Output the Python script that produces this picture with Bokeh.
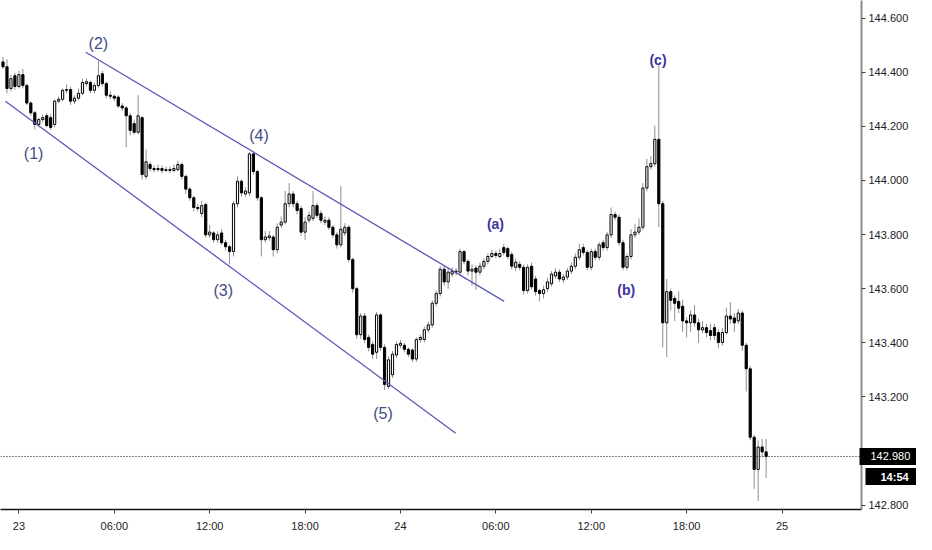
from bokeh.plotting import figure
from bokeh.models import ColumnDataSource, FixedTicker, PrintfTickFormatter, Span, LinearAxis
from bokeh.core.properties import value
from bokeh.embed import file_html
from bokeh.resources import INLINE

# USD/JPY, 15 minute bars. bar 0 = 23rd 00:00, first bar is 22nd 23:00
first_bar = -4

opens = [
    144.438, 144.420, 144.340, 144.387, 144.347, 144.391, 144.351, 144.286, 144.250, 144.207,
    144.225, 144.239, 144.232, 144.207, 144.293, 144.300, 144.333, 144.336, 144.293, 144.304,
    144.322, 144.358, 144.362, 144.333, 144.351, 144.394, 144.358, 144.315, 144.311, 144.308,
    144.275, 144.268, 144.239, 144.210, 144.178, 144.232, 144.015, 144.059, 144.044, 144.040,
    144.044, 144.037, 144.040, 144.037, 144.040, 144.059, 144.015, 143.968, 143.936, 143.900,
    143.878, 143.911, 143.799, 143.806, 143.781, 143.806, 143.770, 143.755, 143.737, 143.914,
    143.997, 143.950, 143.954, 144.098, 144.033, 143.936, 143.781, 143.788, 143.791, 143.744,
    143.835, 143.846, 143.914, 143.950, 143.914, 143.896, 143.809, 143.853, 143.860, 143.907,
    143.878, 143.846, 143.853, 143.827, 143.799, 143.762, 143.806, 143.827, 143.708, 143.600,
    143.430, 143.499, 143.420, 143.394, 143.365, 143.503, 143.383, 143.239, 143.282, 143.355,
    143.391, 143.391, 143.376, 143.373, 143.340, 143.412, 143.412, 143.448, 143.466, 143.546,
    143.582, 143.672, 143.625, 143.654, 143.661, 143.661, 143.737, 143.701, 143.665, 143.676,
    143.661, 143.683, 143.701, 143.719, 143.730, 143.719, 143.752, 143.748, 143.726, 143.679,
    143.690, 143.679, 143.593, 143.683, 143.636, 143.593, 143.582, 143.600, 143.618, 143.647,
    143.661, 143.633, 143.643, 143.665, 143.683, 143.716, 143.752, 143.734, 143.679, 143.737,
    143.716, 143.770, 143.752, 143.799, 143.874, 143.864, 143.770, 143.679, 143.719, 143.799,
    143.809, 143.827, 143.972, 144.051, 144.062, 144.152, 143.914, 143.474, 143.589, 143.564,
    143.553, 143.535, 143.481, 143.474, 143.503, 143.474, 143.448, 143.456, 143.445, 143.456,
    143.438, 143.401, 143.438, 143.499, 143.492, 143.481, 143.510, 143.391, 143.304, 143.051,
    142.932, 143.015, 142.997,
]
highs = [
    144.456, 144.448, 144.390, 144.398, 144.405, 144.412, 144.358, 144.293, 144.257, 144.232,
    144.243, 144.250, 144.243, 144.300, 144.311, 144.340, 144.355, 144.347, 144.315, 144.340,
    144.376, 144.376, 144.369, 144.362, 144.441, 144.405, 144.365, 144.329, 144.318, 144.315,
    144.286, 144.275, 144.250, 144.225, 144.315, 144.239, 144.115, 144.069, 144.055, 144.059,
    144.055, 144.051, 144.051, 144.059, 144.073, 144.066, 144.022, 143.975, 143.943, 143.914,
    143.925, 143.918, 143.835, 143.813, 143.813, 143.820, 143.781, 143.762, 143.925, 144.015,
    144.004, 143.975, 144.105, 144.105, 144.040, 143.943, 143.813, 143.813, 143.799, 143.842,
    143.867, 143.961, 143.990, 143.961, 143.925, 143.907, 143.864, 143.885, 143.961, 143.918,
    143.889, 143.867, 143.864, 143.835, 143.809, 143.979, 143.842, 143.835, 143.715, 143.607,
    143.510, 143.510, 143.430, 143.405, 143.514, 143.510, 143.394, 143.350, 143.370, 143.405,
    143.410, 143.400, 143.383, 143.380, 143.420, 143.430, 143.460, 143.478, 143.557, 143.593,
    143.683, 143.683, 143.676, 143.679, 143.676, 143.748, 143.744, 143.708, 143.690, 143.686,
    143.697, 143.712, 143.730, 143.744, 143.741, 143.748, 143.766, 143.755, 143.737, 143.712,
    143.701, 143.690, 143.690, 143.697, 143.647, 143.600, 143.611, 143.640, 143.665, 143.676,
    143.672, 143.654, 143.676, 143.697, 143.730, 143.766, 143.766, 143.744, 143.748, 143.748,
    143.773, 143.780, 143.810, 143.900, 143.885, 143.875, 143.781, 143.730, 143.820, 143.840,
    143.860, 143.990, 144.080, 144.090, 144.203, 144.430, 143.925, 143.636, 143.600, 143.575,
    143.590, 143.560, 143.495, 143.520, 143.540, 143.490, 143.480, 143.470, 143.470, 143.470,
    143.450, 143.455, 143.530, 143.550, 143.510, 143.525, 143.520, 143.400, 143.315, 143.060,
    143.040, 143.045, 143.045,
]
lows = [
    144.412, 144.322, 144.329, 144.335, 144.340, 144.340, 144.279, 144.239, 144.188, 144.196,
    144.214, 144.196, 144.185, 144.196, 144.286, 144.293, 144.322, 144.279, 144.282, 144.297,
    144.315, 144.347, 144.322, 144.322, 144.340, 144.347, 144.304, 144.300, 144.293, 144.268,
    144.257, 144.123, 144.167, 144.170, 144.170, 144.004, 144.004, 144.033, 144.030, 144.033,
    144.026, 144.030, 144.026, 144.030, 144.033, 144.004, 143.950, 143.925, 143.885, 143.885,
    143.864, 143.788, 143.788, 143.770, 143.770, 143.762, 143.741, 143.690, 143.719, 143.900,
    143.940, 143.940, 143.943, 144.022, 143.925, 143.719, 143.770, 143.777, 143.719, 143.730,
    143.824, 143.838, 143.900, 143.900, 143.874, 143.795, 143.781, 143.842, 143.849, 143.860,
    143.842, 143.835, 143.817, 143.788, 143.748, 143.752, 143.795, 143.697, 143.585, 143.415,
    143.415, 143.398, 143.369, 143.340, 143.340, 143.370, 143.225, 143.230, 143.270, 143.344,
    143.380, 143.365, 143.347, 143.329, 143.329, 143.401, 143.401, 143.438, 143.456, 143.535,
    143.571, 143.611, 143.600, 143.643, 143.650, 143.650, 143.690, 143.650, 143.611, 143.596,
    143.650, 143.672, 143.690, 143.712, 143.712, 143.712, 143.723, 143.708, 143.672, 143.665,
    143.668, 143.578, 143.582, 143.596, 143.575, 143.553, 143.564, 143.589, 143.607, 143.636,
    143.625, 143.622, 143.632, 143.654, 143.672, 143.705, 143.723, 143.668, 143.668, 143.705,
    143.705, 143.741, 143.741, 143.788, 143.853, 143.759, 143.668, 143.668, 143.708, 143.788,
    143.799, 143.817, 143.960, 144.040, 144.051, 143.827, 143.383, 143.347, 143.520, 143.480,
    143.510, 143.440, 143.420, 143.440, 143.460, 143.400, 143.435, 143.420, 143.410, 143.410,
    143.380, 143.390, 143.430, 143.470, 143.440, 143.470, 143.370, 143.220, 143.040, 142.860,
    142.815, 142.980, 142.900,
]
closes = [
    144.420, 144.340, 144.376, 144.347, 144.391, 144.351, 144.286, 144.250, 144.207, 144.225,
    144.232, 144.203, 144.196, 144.293, 144.300, 144.333, 144.336, 144.293, 144.304, 144.322,
    144.362, 144.365, 144.333, 144.351, 144.387, 144.358, 144.315, 144.311, 144.304, 144.275,
    144.268, 144.239, 144.185, 144.178, 144.239, 144.022, 144.069, 144.044, 144.040, 144.044,
    144.037, 144.040, 144.037, 144.044, 144.059, 144.015, 143.968, 143.936, 143.900, 143.896,
    143.907, 143.799, 143.809, 143.781, 143.799, 143.770, 143.755, 143.737, 143.914, 143.997,
    143.954, 143.961, 144.098, 144.033, 143.936, 143.781, 143.791, 143.795, 143.744, 143.827,
    143.846, 143.914, 143.950, 143.914, 143.889, 143.809, 143.846, 143.871, 143.907, 143.871,
    143.853, 143.853, 143.827, 143.799, 143.762, 143.820, 143.827, 143.708, 143.600, 143.430,
    143.499, 143.412, 143.383, 143.358, 143.503, 143.383, 143.246, 143.337, 143.358, 143.394,
    143.398, 143.376, 143.358, 143.340, 143.412, 143.420, 143.448, 143.466, 143.546, 143.582,
    143.672, 143.625, 143.661, 143.665, 143.665, 143.737, 143.701, 143.665, 143.672, 143.661,
    143.683, 143.701, 143.719, 143.730, 143.723, 143.730, 143.734, 143.719, 143.683, 143.698,
    143.679, 143.593, 143.679, 143.607, 143.589, 143.582, 143.596, 143.625, 143.654, 143.661,
    143.636, 143.643, 143.665, 143.683, 143.716, 143.744, 143.734, 143.679, 143.737, 143.716,
    143.762, 143.752, 143.799, 143.874, 143.864, 143.770, 143.679, 143.719, 143.799, 143.809,
    143.827, 143.972, 144.051, 144.062, 144.152, 143.914, 143.474, 143.589, 143.557, 143.546,
    143.528, 143.481, 143.474, 143.503, 143.474, 143.448, 143.456, 143.438, 143.427, 143.427,
    143.401, 143.438, 143.499, 143.488, 143.474, 143.510, 143.391, 143.304, 143.051, 142.932,
    143.015, 142.997, 142.980,
]

# axis ticks (x in bars from the 23rd 00:00)
x_ticks = [0, 24, 48, 72, 96, 120, 144, 168, 192]
x_tick_labels = ["23", "06:00", "12:00", "18:00", "24", "06:00", "12:00", "18:00", "25"]
y_ticks = [142.8, 143.2, 143.4, 143.6, 143.8, 144.0, 144.2, 144.4, 144.6]

last_price = 142.980
countdown = "14:54"
countdown_y = 142.905   # the bar timer sits just under the price tag

# Elliott wave counts
wave_labels = ["(1)", "(2)", "(3)", "(4)", "(5)"]
wave_x = [3.7, 20.0, 51.4, 60.4, 91.6]
wave_y = [144.098, 144.506, 143.593, 144.167, 143.138]
abc_labels = ["(a)", "(b)", "(c)"]
abc_x = [119.9, 152.8, 160.8]
abc_y = [143.838, 143.596, 144.445]

# falling channel: upper and lower line (bar, price)
channel_x0 = [16.8, -3.4]
channel_y0 = [144.474, 144.293]
channel_x1 = [122.1, 109.9]
channel_y1 = [143.553, 143.066]

axis_font = "Liberation Sans"
x_end = 212

bars = list(range(first_bar, first_bar + len(closes)))
source = ColumnDataSource(data=dict(
    x=bars,
    open=opens,
    high=highs,
    low=lows,
    close=closes,
    fill=["white" if c >= o else "black" for o, c in zip(opens, closes)],
))

p = figure(
    width=916, height=534,
    x_range=(-4.63, x_end), y_range=(142.784, 144.665),
    y_axis_location="right",
    output_backend="svg", toolbar_location=None,
    min_border=0,
)

# wicks and bodies
p.segment(x0="x", y0="low", x1="x", y1="high", line_color="#8f8f8f",
          line_width=1, source=source)
p.vbar(x="x", top="close", bottom="open", width=0.55, fill_color="fill",
       line_color="black", line_width=1, source=source)

# channel
p.segment(x0=channel_x0, y0=channel_y0, x1=channel_x1, y1=channel_y1,
          line_color="#5a58b8", line_width=1.3)

# wave labels
wave_src = ColumnDataSource(data=dict(x=wave_x, y=wave_y, text=wave_labels))
p.text(x="x", y="y", text="text", source=wave_src, text_align="center",
       text_baseline="middle", text_color="#414d85", text_font_size="16px",
       text_font=value("Liberation Sans"))
abc_src = ColumnDataSource(data=dict(x=abc_x, y=abc_y, text=abc_labels))
p.text(x="x", y="y", text="text", source=abc_src, text_align="center",
       text_baseline="middle", text_color="#3b349c", text_font_size="14px",
       text_font_style="bold", text_font=value("Liberation Sans"))

# last price line
p.add_layout(Span(location=last_price, dimension="width", line_color="black",
                  line_dash="1 2", line_width=1))

# axes
p.grid.visible = False
p.outline_line_color = None

p.xaxis.ticker = FixedTicker(ticks=x_ticks)
p.xaxis.major_label_overrides = {t: s for t, s in zip(x_ticks, x_tick_labels)}
p.xaxis.axis_line_color = "#111111"
p.xaxis.axis_line_width = 1.5
p.xaxis.major_tick_out = 4
p.xaxis.major_tick_in = 0
p.xaxis.minor_tick_line_color = None
p.xaxis.major_tick_line_color = "#444444"
p.xaxis.major_label_standoff = 6
p.xaxis.major_label_text_font = axis_font
p.xaxis.major_label_text_font_size = "11px"
p.xaxis.major_label_text_color = "#222222"

p.yaxis.ticker = FixedTicker(ticks=y_ticks)
p.yaxis.formatter = PrintfTickFormatter(format="%.3f")
p.yaxis.axis_line_color = "#8c8c8c"
p.yaxis.axis_line_width = 2
p.yaxis.major_tick_out = 4
p.yaxis.major_tick_in = 0
p.yaxis.minor_tick_line_color = None
p.yaxis.major_tick_line_color = "#444444"
p.yaxis.major_label_standoff = 3
p.yaxis.major_label_text_font = axis_font
p.yaxis.major_label_text_font_size = "11px"
p.yaxis.major_label_text_color = "#222222"

# price tag and bar timer: extra axes whose thick tick is the black box;
# the negative standoff pulls the label back so the axis takes no room
def tag_axis(y, text, box_in, standoff, bold):
    return LinearAxis(
        ticker=FixedTicker(ticks=[y]),
        major_label_overrides={y: text},
        axis_line_color=None,
        minor_tick_line_color=None, minor_tick_out=0, minor_tick_in=0,
        major_tick_out=12, major_tick_in=box_in,
        major_tick_line_width=17, major_tick_line_color="black",
        major_label_standoff=standoff,
        major_label_text_color="white",
        major_label_text_font=axis_font,
        major_label_text_font_size="11px",
        major_label_text_font_style="bold" if bold else "normal",
    )

p.add_layout(tag_axis(countdown_y, countdown + " ", 46, -43, True), "right")
p.add_layout(tag_axis(last_price, f"{last_price:.3f} ", 55, -56, False), "right")

open("out.html", "w").write(file_html(p, INLINE))
